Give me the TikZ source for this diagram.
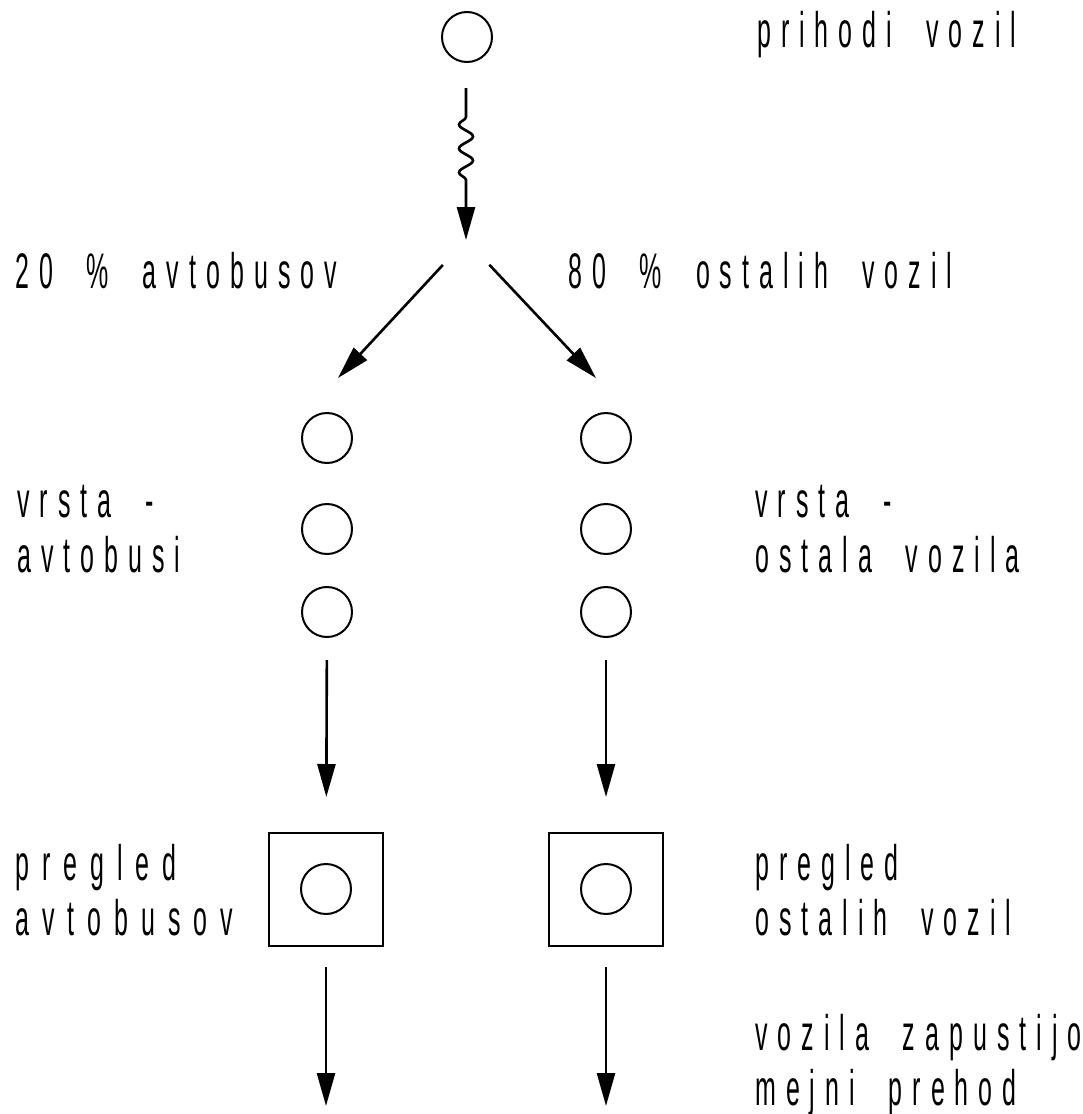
\documentclass[tikz,border=0pt]{standalone}
\usepackage{fontspec}
\newfontfamily\narrowsans[FakeStretch=0.5,LetterSpace=20,WordSpace=2]{Liberation Sans}
\usetikzlibrary{arrows.meta,decorations.pathmorphing}

\begin{document}
\begin{tikzpicture}[x=1pt,y=-1pt,
  lbl/.style={font=\narrowsans\fontsize{50}{55}\selectfont, anchor=base west,
              inner sep=0pt, align=left},
  lbl spaced/.style={lbl, font=\narrowsans\fontsize{50}{55}\selectfont
              \addfontfeature{LetterSpace=#1}},
  token/.style={circle, draw, line width=2pt, minimum size=50pt, inner sep=0pt},
  server/.style={draw, line width=2pt, minimum width=114pt, minimum height=113pt,
                 inner sep=0pt},
  flow/.style={line width=2.6pt, -{Triangle[length=33pt,width=18pt]}},
]
\useasboundingbox (0,0) rectangle (1082,1114);

% arrival source
\node[token] (src) at (467,37) {};

% queues
\node[token] (bL1) at (327,438) {};
\node[token] (bL2) at (327,529) {};
\node[token] (bL3) at (327,612) {};
\node[token] (oR1) at (606,438) {};
\node[token] (oR2) at (606,529) {};
\node[token] (oR3) at (606,612) {};

% inspection stations
\node[server] (boxL) at (326,889.5) {};
\node[token]  (srvL) at (326,889) {};
\node[server] (boxR) at (606,889.5) {};
\node[token]  (srvR) at (606,889) {};

% random arrivals
\coordinate (w0) at (466,88);
\coordinate (w1) at (466,117);
\coordinate (w2) at (466,190);
\coordinate (split) at (466,240);
\draw[flow] (w0) -- (w1)
  decorate[decoration={snake, segment length=24pt, amplitude=7pt, mirror}] {-- (w2)}
  -- (split);

% split into the two streams
\coordinate (dL) at (338,378);
\coordinate (dR) at (596,378);
\draw[flow, shorten <=34pt] (split) -- (dL);
\draw[flow, shorten <=34pt] (split) -- (dR);

% queue to station
\draw[flow, shorten <=22pt, shorten >=35pt] (bL3) -- (boxL);
\draw[flow, shorten <=22pt, shorten >=35pt] (oR3) -- (boxR);

% departures
\coordinate (exL) at (326,1106);
\coordinate (exR) at (606,1106);
\draw[flow, shorten <=20pt] (boxL) -- (exL);
\draw[flow, shorten <=20pt] (boxR) -- (exR);

% labels (two-line labels are placed by their last baseline)
\node[lbl] (tArr) at (757,47)   {prihodi vozil};
\node[lbl] (tBus) at (15,288)   {20 \% avtobusov};
\node[lbl] (tOth) at (568,288)  {80 \% ostalih vozil};
\node[lbl] (tQL)  at (17,572)   {vrsta -\\avtobusi};
\node[lbl] (tQR)  at (755,572)  {vrsta -\\ostala vozila};
\node[lbl spaced=26] (tSL) at (15,935) {pregled\\avtobusov};
\node[lbl] (tSR)  at (755,935)  {pregled\\ostalih vozil};
\node[lbl] (tEx)  at (755,1105) {vozila zapustijo\\mejni prehod};
\end{tikzpicture}
\end{document}
